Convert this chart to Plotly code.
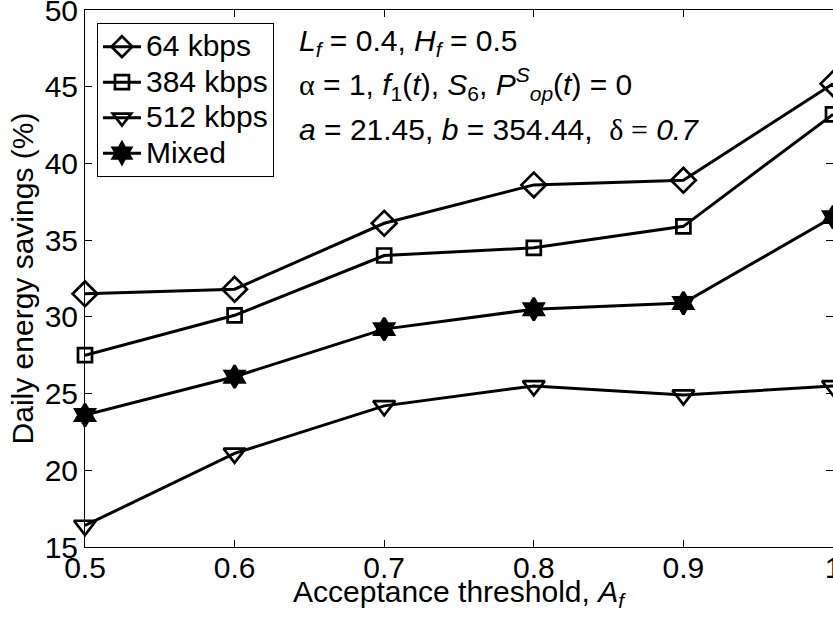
import plotly.graph_objects as go

x_vals = [0.5, 0.6, 0.7, 0.8, 0.9, 1.0]
series_names = ["64 kbps", "384 kbps", "512 kbps", "Mixed"]
kbps64 = [31.5, 31.8, 36.1, 38.6, 38.9, 45.2]
kbps384 = [27.5, 30.1, 34.0, 34.5, 35.9, 43.2]
kbps512 = [16.4, 21.1, 24.2, 25.5, 24.9, 25.5]
mixed = [23.6, 26.1, 29.2, 30.5, 30.9, 36.5]
x_ticks = [0.5, 0.6, 0.7, 0.8, 0.9, 1.0]
x_ticklabels = ["0.5", "0.6", "0.7", "0.8", "0.9", "1"]
y_ticks = [15, 20, 25, 30, 35, 40, 45, 50]

FONT = "Liberation Sans, Arial, sans-serif"
FS = 30
series = [kbps64, kbps384, kbps512, mixed]
symbols = ["diamond-open", "square-open", "triangle-down-open", "hexagram"]
sizes = [19, 14, 19, 17]

fig = go.Figure()
for name, ys, sym, sz in zip(series_names, series, symbols, sizes):
    fig.add_trace(go.Scatter(
        x=x_vals, y=ys, name="<span style='font-size:30px'>" + name + "</span>",
        mode="lines+markers",
        line=dict(color="black", width=3),
        marker=dict(symbol=sym, size=sz, color="black",
                    line=dict(color="black", width=2.7)),
        cliponaxis=False,
    ))

fig.update_layout(
    width=833, height=626,
    margin=dict(l=85, r=0, t=10, b=79, autoexpand=False),
    paper_bgcolor="white", plot_bgcolor="white",
    font=dict(family=FONT, size=FS, color="black"),
    showlegend=True,
    legend=dict(x=0.016, y=0.976, xanchor="left", yanchor="top",
                bordercolor="black", borderwidth=1, bgcolor="white",
                font=dict(size=25), tracegroupgap=0, itemwidth=38),
)
fig.update_xaxes(
    range=[0.5, 1.0], tickvals=x_ticks, ticktext=x_ticklabels,
    showline=True, linecolor="black", linewidth=1, mirror="ticks",
    ticks="inside", ticklen=7, tickcolor="black", showgrid=False, zeroline=False,
    ticklabeloverflow="allow", tickfont=dict(size=FS), automargin=False,
    ticklabelstandoff=-6,
)
fig.update_yaxes(
    range=[15, 50], tickvals=y_ticks,
    showline=True, linecolor="black", linewidth=1, mirror="ticks",
    ticks="inside", ticklen=7, tickcolor="black", showgrid=False, zeroline=False,
    ticklabeloverflow="allow", tickfont=dict(size=FS), automargin=False,
    title=dict(text="Daily energy savings (%)", font=dict(size=FS), standoff=2),
)

# x-axis title as paper annotation (placed close to tick labels like the reference)
fig.add_annotation(text="Acceptance threshold, <i>A</i><sub><i>f</i></sub>",
                   xref="paper", yref="paper", x=0.5, y=-0.086,
                   xanchor="center", yanchor="middle", showarrow=False,
                   font=dict(size=FS, family=FONT, color="black"))

ann_lines = [
    "<i>L</i><sub><i>f</i></sub> = 0.4, <i>H</i><sub><i>f</i></sub> = 0.5",
    "<span style='font-family:Liberation Serif'>α</span> = 1, <i>f</i><sub>1</sub>(<i>t</i>), <i>S</i><sub>6</sub>, <i>P</i><sup><i>S</i></sup><sub><i>op</i></sub>(<i>t</i>) = 0",
    "<i>a</i> = 21.45, <i>b</i> = 354.44,  <span style='font-family:Liberation Serif'>δ =</span> <i>0.7</i>",
]
ann_y = [0.939, 0.863, 0.777]
for txt, yy in zip(ann_lines, ann_y):
    fig.add_annotation(text=txt, xref="paper", yref="paper", x=0.284, y=yy,
                       xanchor="left", yanchor="middle", showarrow=False,
                       font=dict(size=FS, family=FONT, color="black"))

fig.write_html("out.html")
